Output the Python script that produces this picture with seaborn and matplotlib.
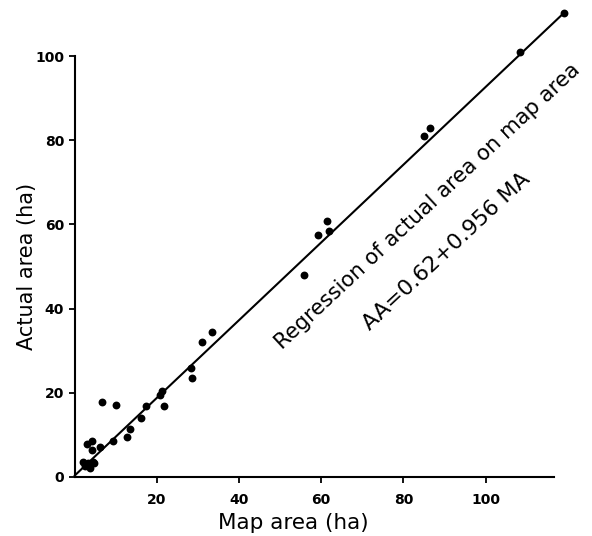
import matplotlib
matplotlib.use("Agg")
import matplotlib.pyplot as plt
import seaborn as sns
import pandas as pd

# Data
map_area = [119.0, 108.3, 84.9, 86.5, 59.3, 61.5, 62.0, 55.8, 33.5, 31.0, 28.4, 28.5,
            21.2, 20.8, 21.7, 17.5, 16.1, 6.8, 10.2, 13.6, 12.7, 9.4, 4.3, 3.0, 6.2,
            4.2, 2.1, 3.4, 4.6, 2.5, 3.8, 4.7]
actual_area = [110.2, 100.9, 81.0, 83.0, 57.6, 60.8, 58.4, 47.9, 34.4, 32.1, 26.0, 23.6,
               20.5, 19.5, 16.9, 16.9, 14.0, 17.7, 17.0, 11.4, 9.4, 8.6, 8.6, 7.8, 7.1,
               6.4, 3.6, 3.3, 3.6, 2.5, 2.1, 3.4]
line_x = [0, 119.0]
line_y = [0.3, 110.2]
x_ticks = [20, 40, 60, 80, 100]
y_ticks = [0, 20, 40, 60, 80, 100]
title_line1 = "Regression of actual area on map area"
title_line2 = "AA=0.62+0.956 MA"

sns.set_theme(style="ticks")
plt.rcParams['font.family'] = ['DejaVu Sans']
plt.rcParams['text.color'] = 'black'
plt.rcParams['axes.labelcolor'] = 'black'
plt.rcParams['xtick.color'] = 'black'
plt.rcParams['ytick.color'] = 'black'

df = pd.DataFrame({"map": map_area, "actual": actual_area})

fig = plt.figure(figsize=(5.92, 5.36), dpi=100)
ax = fig.add_axes([74.5 / 592, 1 - 477 / 536, 479 / 592, (477 - 56) / 536])

sns.lineplot(x=line_x, y=line_y, ax=ax, color="black", linewidth=1.5, clip_on=False)
sns.scatterplot(data=df, x="map", y="actual", ax=ax, color="black", s=32,
                edgecolor="black", linewidth=0, clip_on=False, zorder=3)

ax.set_xlim(0, 116.5)
ax.set_ylim(0, 100)
ax.set_xticks(x_ticks)
ax.set_yticks(y_ticks)
ax.set_xticklabels([str(t) for t in x_ticks], fontsize=10, fontweight="bold")
ax.set_yticklabels([str(t) for t in y_ticks], fontsize=10, fontweight="bold")
ax.tick_params(axis="both", direction="out", length=4.5, width=1.3, colors="black", pad=3)
ax.tick_params(axis="x", pad=7)
for side in ["top", "right"]:
    ax.spines[side].set_visible(False)
for side in ["left", "bottom"]:
    ax.spines[side].set_linewidth(1.5)
    ax.spines[side].set_color("black")

ax.set_xlabel("Map area (ha)", fontsize=15.5, color="black")
ax.set_ylabel("Actual area (ha)", fontsize=15, color="black")
ax.xaxis.set_label_coords(0.457, -0.085)
ax.yaxis.set_label_coords(-0.078, 0.5)

ax.text(86.0, 64.2, title_line1, rotation=43, rotation_mode="anchor",
        ha="center", va="center", fontsize=15.3, color="black")
ax.text(90.4, 53.5, title_line2, rotation=43, rotation_mode="anchor",
        ha="center", va="center", fontsize=15.8, color="black")

fig.savefig("out.png", dpi=100, facecolor="white")
